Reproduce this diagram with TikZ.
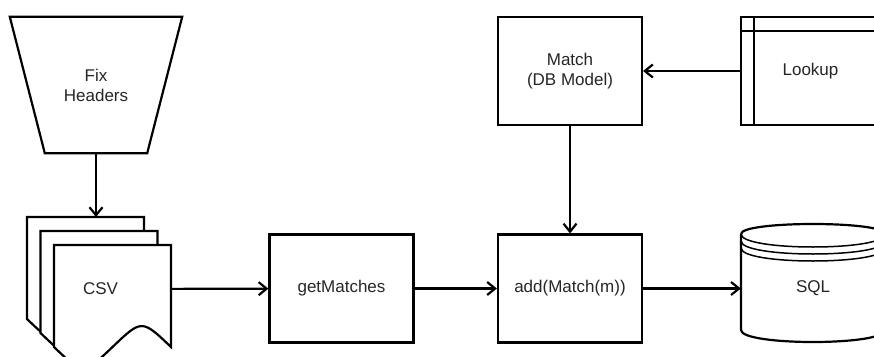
\documentclass[tikz,border=0pt]{standalone}
\usepackage{fontspec}
\setmainfont{Liberation Sans}
\usepackage{tikz}
\usetikzlibrary{arrows.meta}
\def\linew{2.2pt}
\newcommand{\csvpage}[2]{%
  \filldraw[page, shift={(#1,#2)}] (0,0) -- (117,0) -- (117,102)
    .. controls (87.75,74.1) .. (58.5,102)
    .. controls (29.25,129.9) .. (0,102) -- cycle;}
\tikzset{
  process/.style={
    rectangle,
    minimum width=144pt,
    minimum height=108pt,
    align=center,
    draw=black,
    line width=\linew
    },
  page/.style={
    draw=black,
    fill=white,
    line width=\linew
    },
  arrow/.style={line width=\linew,-{Straight Barb[length=8pt,width=13pt]}},
}

\begin{document}
\begin{tikzpicture}[x=1pt, y=-1pt, line join=miter,
    every node/.style={font=\fontsize{17pt}{20pt}\selectfont, text=black!85}]
    \tikzstyle{plain}=[inner sep=0pt]
    \useasboundingbox (0,0) rectangle (874,356);
    \clip (0,0) rectangle (874,356);

    % Draw the header step
    \node[plain, minimum width=102pt, minimum height=136pt, align=center] (fix) at (96,85) {Fix\\Headers};
    \draw[line width=\linew] ([xshift=-35pt]fix.north west) -- ([xshift=35pt]fix.north east)
        -- (fix.south east) -- (fix.south west) -- cycle;

    % Draw the stack of csv files
    \csvpage{27}{217}
    \csvpage{40.5}{231}
    \csvpage{54}{245}
    \node[plain, minimum width=117pt, label={[xshift=-12pt]center:CSV}] (csv) at (112.5,289) {};
    \coordinate (stacktop) at (96,217);

    % Draw the process boxes
    \node[process] (getm) at (341.5,288.5) {getMatches};
    \node[process] (add) at (570,288.5) {add(Match(m))};
    \node[process] (match) at (570,71) {Match\\(DB Model)};
    \node[process, minimum width=139pt] (lookup) at (810.5,71) {Lookup};
    \draw[line width=\linew] ([xshift=14pt]lookup.north west) -- ([xshift=14pt]lookup.south west)
        ([yshift=-15pt]lookup.north west) -- ([yshift=-15pt]lookup.north east);

    % Draw the database
    \node[plain, minimum width=144pt] (sql) at (813,288.5) {SQL};
    \begin{scope}[shift={(741,224)}, line width=\linew]
        \draw (0,10) -- (0,106) .. controls (0,122) and (144,122) .. (144,106) -- (144,10);
        \draw (0,10) .. controls (0,-3.33) and (144,-3.33) .. (144,10);
        \draw[line width=1.5pt] (0,10) .. controls (0,27.33) and (144,27.33) .. (144,10);
        \draw[line width=1.5pt] (0,17) .. controls (0,34.33) and (144,34.33) .. (144,17);
        \draw[line width=1.5pt] (0,24) .. controls (0,41.33) and (144,41.33) .. (144,24);
    \end{scope}

    % Connect the steps
    \draw[arrow] (fix) -- (stacktop);
    \draw[arrow] (csv) -- (getm);
    \draw[arrow] (getm) -- (add);
    \draw[arrow] (add) -- (sql);
    \draw[arrow] (match) -- (add);
    \draw[arrow] (lookup) -- (match);
\end{tikzpicture}
\end{document}
